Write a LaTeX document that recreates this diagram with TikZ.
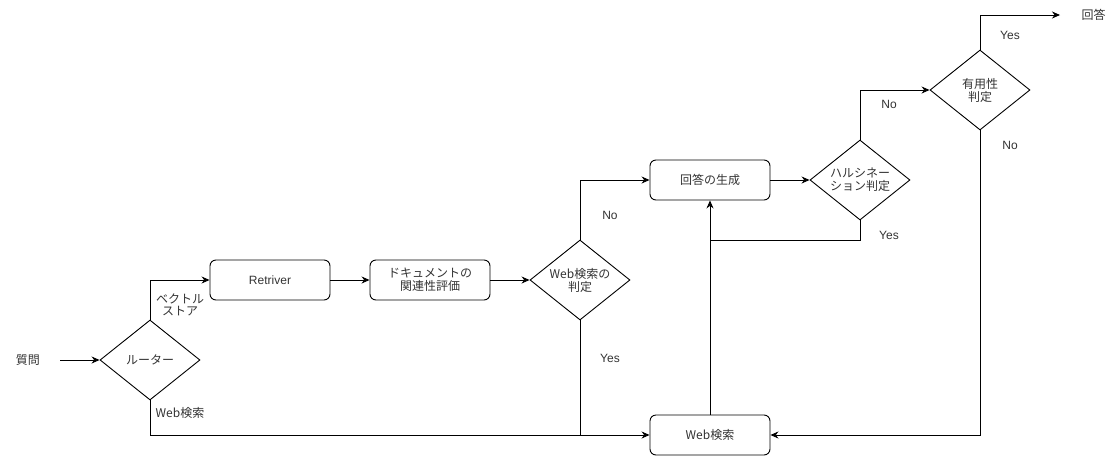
\documentclass[tikz,border=0pt]{standalone}
\usepackage{fontspec}
\setmainfont{Liberation Sans}
\newfontfamily\jp{Noto Sans CJK JP}
\usetikzlibrary{shapes.geometric,arrows.meta}
\definecolor{txt}{HTML}{333333}
\begin{document}
\begin{tikzpicture}[x=1pt,y=-1pt,
 every node/.style={font=\fontsize{12}{14}\selectfont, text=txt},
 box/.style={draw, rounded corners=6pt, minimum width=120pt, minimum height=40pt, align=center, line width=0.9pt, inner sep=0pt},
 dia/.style={draw, diamond, minimum width=100pt, minimum height=80pt, inner sep=0pt, line width=0.9pt, aspect=1.25},
 arr/.style={-{Stealth[length=8pt,width=7pt]}, line width=0.9pt},
 ln/.style={line width=0.9pt},
 lbl/.style={align=center, font=\fontsize{12}{14}\selectfont\jp}]
\useasboundingbox (0,0) rectangle (1120,456);

\node[lbl] (q) at (28,360) {質問};
\node[dia, label={[lbl]center:ルーター}] (router) at (150,360) {};
\node[box] (ret) at (270,280) {Retriver};
\node[box, lbl, draw] (doc) at (430,280) {ドキュメントの\\[-1pt]関連性評価};
\node[dia, label={[lbl]center:Web検索の\\[-1pt]判定}] (webj) at (580,280) {};
\node[box, lbl] (gen) at (710,180) {回答の生成};
\node[dia, label={[lbl]center:ハルシネー\\[-1pt]ション判定}] (hal) at (860,180) {};
\node[dia, label={[lbl]center:有用性\\[-1pt]判定}] (use) at (980,90) {};
\node[box, lbl] (web) at (710,435) {Web検索};
\node[lbl, anchor=west] (ans) at (1078,15) {回答};
\coordinate (qout) at (60,360);
\coordinate (ansin) at (1060,15);
\coordinate (j) at (710,240);

\draw[arr] (qout) -- (router.west);
\draw[arr] (router.north) |- (ret.west);
\draw[arr] (ret) -- (doc);
\draw[arr] (doc) -- (webj);
\draw[arr] (webj.north) |- (gen.west);
\draw[arr] (gen) -- (hal);
\draw[arr] (hal.north) |- (use.west);
\draw[arr] (use.north) |- (ansin);
\draw[arr] (use.south) |- (web.east);
\draw[arr] (router.south) |- (web.west);
\draw[ln] (webj.south) -- (webj.south |- web.west);
\draw[arr] (web.north) -- (gen.south);
\draw[ln] (hal.south) |- (j);

\node[lbl] (l1) at (180,305) {ベクトル\\[-2pt]ストア};
\node[lbl] (l2) at (180,413) {Web検索};
\node (l3) at (610,215) {No};
\node (l4) at (610,358) {Yes};
\node (l5) at (889,235) {Yes};
\node (l6) at (889,104) {No};
\node (l7) at (1010,35) {Yes};
\node (l8) at (1010,145) {No};
\end{tikzpicture}
\end{document}
